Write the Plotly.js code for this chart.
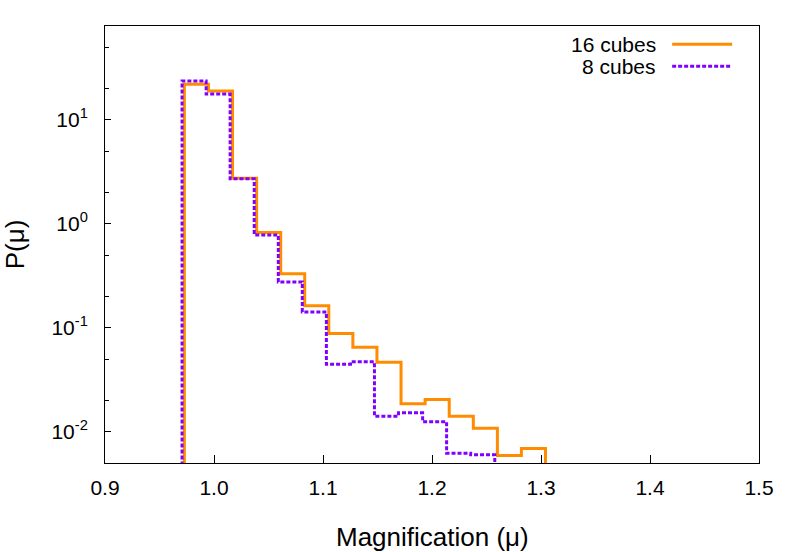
<!DOCTYPE html>
<html>
<head>
<meta charset="utf-8">
<script src="https://cdn.plot.ly/plotly-3.0.1.min.js"></script>
<style>html,body{margin:0;padding:0;background:#fff;}#chart{width:789px;height:552px;}</style>
</head>
<body>
<div id="chart"></div>
<script>
// Bin edges (magnification) and probability densities
const edges16 = [0.9728, 0.9949, 1.0170, 1.0391, 1.0612, 1.0832, 1.1053, 1.1274, 1.1495, 1.1716, 1.1937, 1.2158, 1.2379, 1.2600, 1.2820, 1.3041];
const p16     = [22.0, 19.0, 2.74, 0.827, 0.330, 0.163, 0.0879, 0.0650, 0.0467, 0.0186, 0.0204, 0.0141, 0.0108, 0.0059, 0.0069];
const edges8  = [0.9707, 0.9928, 1.0148, 1.0369, 1.0590, 1.0810, 1.1031, 1.1252, 1.1472, 1.1693, 1.1914, 1.2134, 1.2355, 1.2576];
const p8      = [23.7, 17.7, 2.71, 0.780, 0.276, 0.142, 0.0446, 0.0470, 0.0141, 0.0152, 0.0125, 0.0062, 0.0060];
const seriesNames = ["16 cubes", "8 cubes"];
const xTitle = "Magnification (\u03bc)";
const yTitle = "P(\u03bc)";
const xTicks = [0.9, 1.0, 1.1, 1.2, 1.3, 1.4, 1.5];
const yTicks = [0.01, 0.1, 1, 10];
const yTickText = ["10<sup>-2</sup>", "10<sup>-1</sup>", "10<sup>0</sup>", "10<sup>1</sup>"];
const yMinor = [0.005, 0.02, 0.05, 0.2, 0.5, 2, 5, 20, 50];
const BASE = 1e-4;

function steps(edges, p) {
  const xs = [edges[0]], ys = [BASE];
  for (let i = 0; i < p.length; i++) { xs.push(edges[i]); ys.push(p[i]); }
  xs.push(edges[p.length]); ys.push(BASE);
  return {xs, ys};
}
const s16 = steps(edges16, p16);
const s8 = steps(edges8, p8);
const C16 = "#ff8c00", C8 = "#8000ff";
const FONT = "Liberation Sans, Arial, Helvetica, sans-serif";

const data = [
  {x: s16.xs, y: s16.ys, type: "scatter", mode: "lines", name: seriesNames[0],
   line: {shape: "hv", color: C16, width: 3}},
  {x: s8.xs, y: s8.ys, type: "scatter", mode: "lines", name: seriesNames[1],
   line: {shape: "hv", color: C8, width: 3, dash: "4px,2px"}}
];

const lx0 = 0.8672, lx1 = 0.959, ltx = 0.8452;
const ly = [0.9582, 0.9081];
const annotations = seriesNames.map((n, i) => ({
  xref: "paper", yref: "paper", x: ltx, y: ly[i], text: n, showarrow: false,
  xanchor: "right", yanchor: "middle", font: {size: 21, color: "#000"}
}));
annotations.push({
  xref: "paper", yref: "paper", x: 0.5, y: -0.169, text: xTitle, showarrow: false,
  xanchor: "center", yanchor: "middle", font: {size: 26, color: "#000"}
});

const layout = {
  width: 789, height: 552,
  margin: {l: 105, r: 30, t: 26, b: 89},
  paper_bgcolor: "#fff", plot_bgcolor: "#fff",
  font: {family: FONT, size: 21, color: "#000"},
  showlegend: false,
  xaxis: {
    range: [0.9, 1.5], tickvals: xTicks, tickformat: ".1f",
    ticks: "inside", ticklen: 8, tickwidth: 1, tickcolor: "#000",
    showline: true, linecolor: "#000", linewidth: 1, mirror: true,
    showgrid: false, zeroline: false, ticklabelstandoff: 6
  },
  yaxis: {
    type: "log", range: [Math.log10(0.005), Math.log10(80)],
    tickmode: "array", tickvals: yTicks, ticktext: yTickText,
    ticks: "inside", ticklen: 6, tickwidth: 1, tickcolor: "#000",
    minor: {tickmode: "array", tickvals: yMinor, ticks: "inside", ticklen: 4, tickcolor: "#000", showgrid: false},
    showline: true, linecolor: "#000", linewidth: 1, mirror: true,
    showgrid: false, zeroline: false, ticklabelstandoff: 12,
    title: {text: yTitle, font: {size: 26}, standoff: 24}
  },
  annotations: annotations,
  shapes: [
    {type: "line", xref: "paper", yref: "paper", x0: lx0, x1: lx1, y0: ly[0], y1: ly[0], line: {color: C16, width: 3}},
    {type: "line", xref: "paper", yref: "paper", x0: lx0, x1: lx1, y0: ly[1], y1: ly[1], line: {color: C8, width: 3, dash: "4px,2px"}}
  ]
};
Plotly.newPlot("chart", data, layout, {displayModeBar: false, staticPlot: true});
</script>
</body>
</html>
